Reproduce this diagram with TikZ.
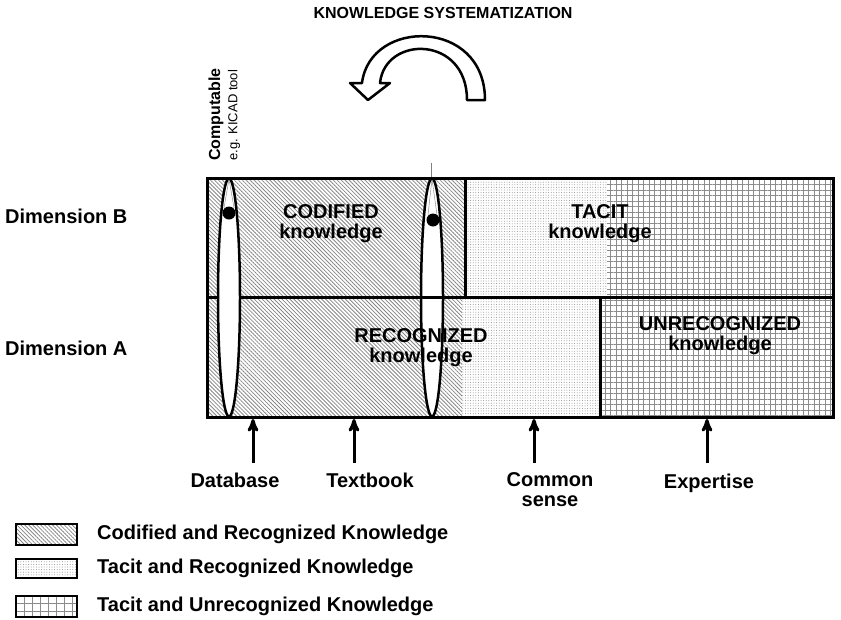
\documentclass[tikz,border=0pt]{standalone}
\usepackage{fontspec}
\setmainfont{Liberation Sans}
\usetikzlibrary{arrows,patterns.meta}
\tikzset{
  hatchfill/.style={pattern={Lines[angle=-45,distance=2.8pt,line width=0.8pt]},pattern color=gray!95},
  dotfill/.style={pattern={Dots[distance=2.6pt,radius=0.5pt]},pattern color=gray!90},
  gridfill/.style={pattern={Hatch[angle=0,distance=5.5pt,line width=0.7pt]},pattern color=gray!90},
  bigtext/.style={font=\fontsize{20}{20}\selectfont\bfseries,align=center,inner sep=0pt},
  edge/.style={line width=3pt},
  uparrow/.style={line width=3pt,-stealth'}
}
\begin{document}
\begin{tikzpicture}[x=1pt,y=-1pt]
  \useasboundingbox (0,0) rectangle (841,619);
  % title and curved arrow
  \node (title) at (443,13) {\fontsize{16}{16}\selectfont\bfseries KNOWLEDGE SYSTEMATIZATION};
  \draw[line width=2.5pt,fill=white,line join=round]
    (485,100) .. controls (485,18) and (370,18) .. (362,83) -- (350,83) -- (368,100)
    -- (390,83) -- (380,83) .. controls (385,35) and (467,35) .. (467,100) -- cycle;
  % regions
  \fill[hatchfill] (207,178) rectangle (465,297);
  \fill[dotfill]   (465,178) rectangle (607,297);
  \fill[gridfill]  (607,178) rectangle (833,297);
  \fill[hatchfill] (207,297) rectangle (462,417);
  \fill[dotfill]   (462,297) rectangle (600,417);
  \fill[gridfill]  (600,297) rectangle (833,417);
  % lenses
  \draw[line width=2.5pt,fill=white] (229,297.5) ellipse [x radius=11,y radius=119];
  \draw[line width=2.5pt,fill=white] (432,297.5) ellipse [x radius=11,y radius=119];
  \draw[gray,thin] (224,208) -- (229,179) -- (234,208);
  \draw[gray,thin] (428,215) -- (432,179) -- (437,215);
  \draw[gray,thin] (431,163) -- (431,178);
  \fill (229,213) circle [radius=6.5];
  \fill (433,220) circle [radius=6.5];
  % borders
  \draw[edge] (207,178) rectangle (833,417);
  \draw[edge] (207,297) -- (218,297);
  \draw[edge] (240,297) -- (833,297);
  \draw[edge] (465,178) -- (465,297);
  \draw[edge] (600,297) -- (600,417);
  % region labels
  \node[bigtext] (codified) at (331,224) {CODIFIED\\knowledge};
  \node[bigtext] (tacit)    at (600,224) {TACIT\\knowledge};
  \node[bigtext] (recog)    at (421,348) {RECOGNIZED\\knowledge};
  \node[bigtext] (unrecog)  at (720,336) {UNRECOGNIZED\\knowledge};
  \node[bigtext,anchor=west] (dimb) at (5,216) {Dimension B};
  \node[bigtext,anchor=west] (dima) at (5,348) {Dimension A};
  \node[rotate=90,anchor=west,inner sep=0pt,font=\fontsize{16}{16}\selectfont\bfseries]
    (comp) at (216,161) {Computable};
  \node[rotate=90,anchor=west,inner sep=0pt,font=\fontsize{13}{13}\selectfont]
    (kicad) at (234,161) {e.g. KICAD tool};
  % examples below
  \node[bigtext] (database) at (235,480) {Database};
  \node[bigtext] (textbook) at (370,480) {Textbook};
  \node[bigtext] (common)   at (550,490) {Common\\sense};
  \node[bigtext] (expert)   at (709,483) {Expertise};
  \coordinate (dbtail) at (253,463);  \coordinate (dbtip) at (253,419);
  \coordinate (tbtail) at (354,463);  \coordinate (tbtip) at (354,419);
  \coordinate (cstail) at (534,463);  \coordinate (cstip) at (534,419);
  \coordinate (extail) at (707,463);  \coordinate (extip) at (707,419);
  \draw[uparrow] (dbtail) -- (dbtip);
  \draw[uparrow] (tbtail) -- (tbtip);
  \draw[uparrow] (cstail) -- (cstip);
  \draw[uparrow] (extail) -- (extip);
  % legend
  \draw[line width=2.5pt,hatchfill] (16,524) rectangle (77,545);
  \draw[line width=2.5pt,dotfill]   (16,559) rectangle (77,578);
  \draw[line width=2.5pt,pattern={Hatch[angle=0,distance=8pt,line width=0.8pt]},pattern color=gray!90]
    (16,596) rectangle (77,617);
  \node[bigtext,anchor=west] (leg1) at (97,534) {Codified and Recognized Knowledge};
  \node[bigtext,anchor=west] (leg2) at (97,568) {Tacit and Recognized Knowledge};
  \node[bigtext,anchor=west] (leg3) at (97,606) {Tacit and Unrecognized Knowledge};
\end{tikzpicture}
\end{document}
